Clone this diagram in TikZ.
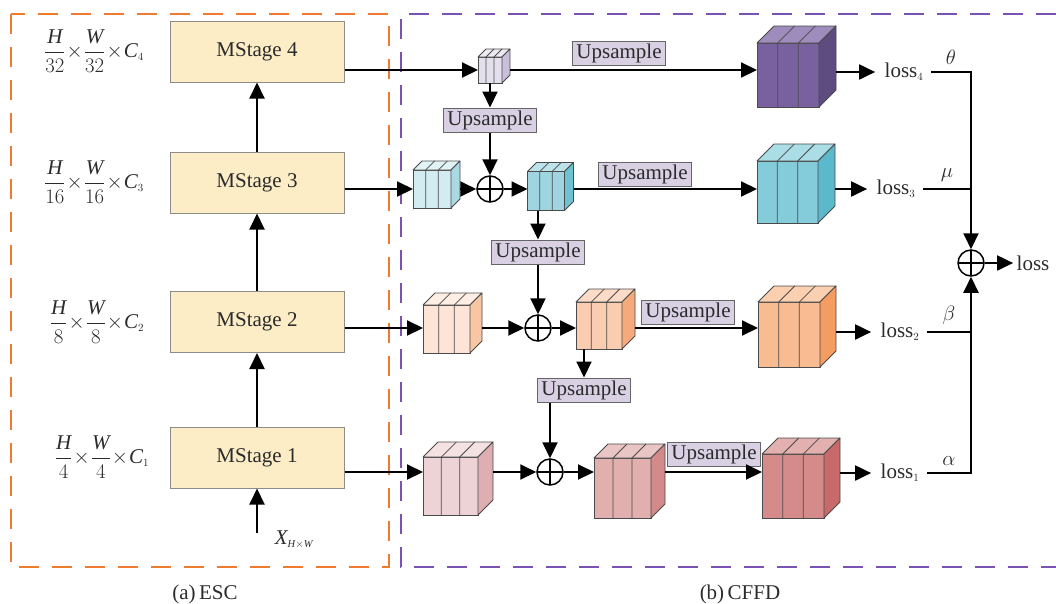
\documentclass[tikz,border=0pt]{standalone}
\usepackage{amsmath}
\usepackage{fontspec}
\setmainfont{Liberation Serif}
\usetikzlibrary{arrows.meta,calc,positioning}
\definecolor{escorange}{HTML}{EE7B30}
\definecolor{cffdpurple}{HTML}{7A52B3}
\definecolor{stagefill}{HTML}{FDEDC7}
\definecolor{upfill}{HTML}{D9D1E3}
\definecolor{edgegrey}{HTML}{4A4A4A}
\definecolor{inkdark}{HTML}{2B2B2B}
% cube colours: front / top / side
\definecolor{lavF}{HTML}{E4DFEC}\definecolor{lavT}{HTML}{EEEAF3}\definecolor{lavS}{HTML}{C9BFDA}
\definecolor{vioF}{HTML}{7961A0}\definecolor{vioT}{HTML}{9D8CBC}\definecolor{vioS}{HTML}{5E4B80}
\definecolor{icyF}{HTML}{D3ECF1}\definecolor{icyT}{HTML}{E2F3F6}\definecolor{icyS}{HTML}{A9DAE3}
\definecolor{aquF}{HTML}{9ED5E0}\definecolor{aquT}{HTML}{BDE3EA}\definecolor{aquS}{HTML}{6EC3D3}
\definecolor{tealF}{HTML}{84CCD9}\definecolor{tealT}{HTML}{ABDDE6}\definecolor{tealS}{HTML}{5BB9CC}
\definecolor{creF}{HTML}{FDE4D6}\definecolor{creT}{HTML}{FEEEE4}\definecolor{creS}{HTML}{F8C6A2}
\definecolor{pchF}{HTML}{FBCDB0}\definecolor{pchT}{HTML}{FCDCC8}\definecolor{pchS}{HTML}{F6A97A}
\definecolor{orgF}{HTML}{F9BB92}\definecolor{orgT}{HTML}{FBD0B0}\definecolor{orgS}{HTML}{F49C62}
\definecolor{rosF}{HTML}{EDD3D6}\definecolor{rosT}{HTML}{F4E2E3}\definecolor{rosS}{HTML}{DEAEB2}
\definecolor{pnkF}{HTML}{E2AFAF}\definecolor{pnkT}{HTML}{EAC5C5}\definecolor{pnkS}{HTML}{D38A8A}
\definecolor{redF}{HTML}{D68B8B}\definecolor{redT}{HTML}{E3B0B0}\definecolor{redS}{HTML}{C86A6A}
\tikzset{
  stagebox/.style={draw=black!45, line width=1pt, fill=stagefill, minimum width=174pt, minimum height=61pt},
  upbox/.style={draw=black!60, line width=1pt, fill=upfill, minimum width=93pt, minimum height=24pt, inner sep=0pt},
  cube face/.style={draw=edgegrey, line width=0.8pt, inner sep=0pt, outer sep=0pt},
  cube edge/.style={draw=edgegrey, line width=0.8pt, line join=round},
  sumnode/.style={circle, draw, line width=1.5pt, minimum size=26pt, inner sep=0pt,
    path picture={\draw[line width=1.5pt] (path picture bounding box.north) -- (path picture bounding box.south)
      (path picture bounding box.west) -- (path picture bounding box.east);}},
  flow/.style={-{Triangle[length=16pt,width=15pt]}, line width=2pt},
  link/.style={line width=2pt},
  frame/.style={line width=2pt, dash pattern=on 20pt off 13pt},
}
% feature cube: name, front centre, width, height, depth, front/top/side colours
\newcommand{\featcube}[8]{%
  \node[cube face, fill=#6, minimum width=#3pt, minimum height=#4pt] (#1) at #2 {};
  \draw[cube edge, fill=#7] (#1.north west) -- ++(#5,-#5) -- ([shift={(#5,-#5)}]#1.north east) -- (#1.north east) -- cycle;
  \draw[cube edge, fill=#8] (#1.north east) -- ++(#5,-#5) -- ([shift={(#5,-#5)}]#1.south east) -- (#1.south east) -- cycle;
  \foreach \k in {1,2}
    \draw[cube edge] ($(#1.south west)!\k/3!(#1.south east)$) -- ($(#1.north west)!\k/3!(#1.north east)$) -- ++(#5,-#5);
  \coordinate (#1-o) at ([xshift=#5pt]#1.east);
}
\begin{document}
\begin{tikzpicture}[x=1pt, y=-1pt, font=\fontsize{21}{25}\selectfont, text=inkdark]
  \useasboundingbox (0,0) rectangle (1056,603);
  % frames
  \draw[frame, escorange] (11,14) rectangle (389,567);
  \draw[frame, cffdpurple] (1056,14) -- (401,14) -- (401,567) -- (1056,567);
  \node (capa) at (205,594) {(a)\,ESC};
  \node (capb) at (740,594) {(b)\,CFFD};
  % encoder stages
  \node[stagebox] (m4) at (257,51.5) {MStage 4};
  \node[stagebox] (m3) at (257,182.5) {MStage 3};
  \node[stagebox] (m2) at (257,322) {MStage 2};
  \node[stagebox] (m1) at (257,457.5) {MStage 1};
  \node (dim4) at (94,51) {$\dfrac{\textit{H}}{32}\!\times\!\dfrac{\textit{W}}{32}\!\times\!\textit{C}_{\scriptscriptstyle 4}$};
  \node (dim3) at (94,182) {$\dfrac{\textit{H}}{16}\!\times\!\dfrac{\textit{W}}{16}\!\times\!\textit{C}_{\scriptscriptstyle 3}$};
  \node (dim2) at (97,322) {$\dfrac{\textit{H}}{8}\!\times\!\dfrac{\textit{W}}{8}\!\times\!\textit{C}_{\scriptscriptstyle 2}$};
  \node (dim1) at (102,457) {$\dfrac{\textit{H}}{4}\!\times\!\dfrac{\textit{W}}{4}\!\times\!\textit{C}_{\scriptscriptstyle 1}$};
  \coordinate (xin) at (257,533);
  \node (xlab) at (294,540) {$\textit{X}_{\scriptscriptstyle \textit{H}\times\textit{W}}$};
  \draw[flow] (xin) -- (m1.south);
  \draw[flow] (m1) -- (m2);
  \draw[flow] (m2) -- (m3);
  \draw[flow] (m3) -- (m4);
  % decoder cubes
  \featcube{s4}{(490,70)}{24}{26}{8}{lavF}{lavT}{lavS}
  \featcube{p4}{(788,75)}{62}{64}{17}{vioF}{vioT}{vioS}
  \featcube{c3a}{(432,189)}{38}{38}{9}{icyF}{icyT}{icyS}
  \featcube{c3b}{(546,191)}{37}{39}{9}{aquF}{aquT}{aquS}
  \featcube{b3}{(787.5,192)}{61}{62}{17}{tealF}{tealT}{tealS}
  \featcube{c2a}{(446.5,329)}{47}{48}{12}{creF}{creT}{creS}
  \featcube{c2b}{(599,325.5)}{46}{47}{13}{pchF}{pchT}{pchS}
  \featcube{o2}{(789,334.5)}{62}{65}{16}{orgF}{orgT}{orgS}
  \featcube{c1a}{(450.5,486)}{55}{58}{15}{rosF}{rosT}{rosS}
  \featcube{c1b}{(622.5,488)}{57}{60}{14}{pnkF}{pnkT}{pnkS}
  \featcube{r1}{(793,486)}{62}{64}{16}{redF}{redT}{redS}
  \node[sumnode] (pl3) at (490,189) {};
  \node[sumnode] (pl2) at (538,328) {};
  \node[sumnode] (pl1) at (550,472) {};
  \node[sumnode] (sum) at (971,263) {};
  % upsample boxes
  \node[upbox] (up4) at (619,53.5) {Upsample};
  \node[upbox] (up3) at (645,174) {Upsample};
  \node[upbox] (up2) at (688,312) {Upsample};
  \node[upbox] (up1) at (714,454) {Upsample};
  \node[upbox] (up43) at (490,120) {Upsample};
  \node[upbox] (up32) at (538,252) {Upsample};
  \node[upbox] (up21) at (584,390) {Upsample};
  % losses
  \node (loss4) at (904,72) {loss$_{\scriptscriptstyle 4}$};
  \node (loss3) at (896,189) {loss$_{\scriptscriptstyle 3}$};
  \node (loss2) at (900,332) {loss$_{\scriptscriptstyle 2}$};
  \node (loss1) at (900,473) {loss$_{\scriptscriptstyle 1}$};
  \node (lossall) at (1033,263) {loss};
  % row 4
  \draw[flow] (m4.east |- s4) -- (s4.west);
  \draw[flow] (s4-o) -- (p4.west |- s4-o);
  \draw[flow, shorten >=6pt] (p4-o |- loss4) -- (loss4);
  \draw[flow] (s4.south) -- (up43.north);
  \draw[flow] (up43.south) -- (pl3.north);
  % row 3
  \draw[flow] (m3.east |- pl3) -- (c3a.west |- pl3);
  \draw[flow] (c3a-o |- pl3) -- (pl3.west);
  \draw[flow] (pl3.east) -- (c3b.west |- pl3);
  \draw[flow] (c3b-o |- pl3) -- (b3.west |- pl3);
  \draw[flow, shorten >=6pt] (b3-o |- loss3) -- (loss3);
  \draw[flow] (c3b.south -| up32) -- (up32.north);
  \draw[flow] (up32.south) -- (pl2.north);
  % row 2
  \draw[flow] (m2.east |- pl2) -- (c2a.west |- pl2);
  \draw[flow] (c2a-o |- pl2) -- (pl2.west);
  \draw[flow] (pl2.east) -- (c2b.west |- pl2);
  \draw[flow] (c2b-o |- pl2) -- (o2.west |- pl2);
  \draw[flow, shorten >=6pt] (o2-o |- loss2) -- (loss2);
  \draw[flow] (c2b.south -| up21) -- (up21.north);
  \draw[flow] (up21.south -| pl1) -- (pl1.north);
  % row 1
  \draw[flow] (m1.east |- pl1) -- (c1a.west |- pl1);
  \draw[flow] (c1a-o |- pl1) -- (pl1.west);
  \draw[flow] (pl1.east) -- (c1b.west |- pl1);
  \draw[flow] (c1b-o |- pl1) -- (r1.west |- pl1);
  \draw[flow, shorten >=6pt] (r1-o |- loss1) -- (loss1);
  % weighted sum of the losses
  \draw[flow] ([xshift=4pt]loss4.east) -| node[pos=0.25, above=3pt] {$\theta$} (sum.north);
  \draw[link] ([xshift=4pt]loss3.east) -- node[above=3pt] {$\mu$} (loss3.east -| sum);
  \draw[link] ([xshift=4pt]loss2.east) -- node[above=3pt] {$\beta$} (loss2.east -| sum);
  \draw[flow] ([xshift=4pt]loss1.east) -| node[pos=0.25, above=3pt] {$\alpha$} (sum.south);
  \draw[flow] (sum.east) -- (lossall.west);
\end{tikzpicture}
\end{document}
